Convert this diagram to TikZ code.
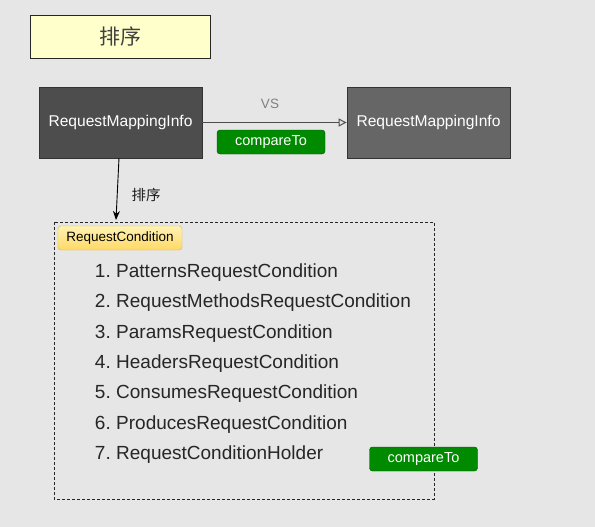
\documentclass[tikz,border=0pt]{standalone}
\usepackage{fontspec}
\setmainfont{Liberation Sans}
\newfontfamily\cjk{Noto Sans CJK SC}
\usetikzlibrary{arrows.meta}
\definecolor{bg}{HTML}{E6E6E6}
\definecolor{titlefill}{HTML}{FFFFCC}
\definecolor{darkbox}{HTML}{4D4D4D}
\definecolor{midbox}{HTML}{666666}
\definecolor{greenfill}{HTML}{008A00}
\definecolor{greendraw}{HTML}{005700}
\definecolor{tagtop}{HTML}{FFF2B3}
\definecolor{tagbot}{HTML}{FFD966}
\definecolor{tagdraw}{HTML}{D6B656}
\tikzset{
  px/.style={x=1pt,y=-1pt},
  infobox/.style={draw=black!80, line width=0.8pt, minimum width=163pt, minimum height=71pt, text=white, font=\fontsize{15.6}{18}\selectfont, inner sep=0pt},
  greentag/.style={draw=greendraw, fill=greenfill, rounded corners=3pt, minimum width=108pt, minimum height=24pt, text=white, font=\fontsize{14.5}{17}\selectfont, inner sep=0pt},
  listitem/.style={anchor=base west, font=\fontsize{19}{22}\selectfont, text=black!85, inner sep=0pt},
  numitem/.style={anchor=base east, font=\fontsize{19}{22}\selectfont, text=black!85, inner sep=0pt}
}
\begin{document}
\begin{tikzpicture}[px]
\fill[bg] (0,0) rectangle (595,527);
\useasboundingbox (0,0) rectangle (595,527);
% title
\node[draw=black!85, line width=0.8pt, fill=titlefill, minimum width=180pt, minimum height=43pt, inner sep=0pt, font=\cjk\fontsize{21}{24}\selectfont, text=black!75] (title) at (120,36.5) {排序};
% boxes
\node[infobox, fill=darkbox] (left) at (120.5,122.5) {RequestMappingInfo};
\node[infobox, fill=midbox] (right) at (428.5,122.5) {RequestMappingInfo};
\draw[draw=darkbox, line width=1pt, -{Triangle[open, length=8pt, width=8pt]}] (left.east) -- (right.west);
\node[font=\fontsize{13.5}{16}\selectfont, text=black!50] (vs) at (270,104) {VS};
\node[greentag] (cmp1) at (271,142) {compareTo};
% down arrow
\coordinate (dtop) at (119,158);
\coordinate (dbot) at (116,220);
\draw[black, line width=0.9pt, -{Stealth[length=9pt, width=7pt]}] (dtop) -- (dbot);
\node[font=\cjk\fontsize{14.5}{17}\selectfont, text=black!90] (sortlbl) at (146,195) {排序};
% dashed container
\draw[black!85, line width=0.8pt, dash pattern=on 3pt off 2pt] (54,222) rectangle (434,499);
\node[draw=tagdraw, top color=tagtop, bottom color=tagbot, rounded corners=3pt, minimum width=124pt, minimum height=24pt, inner sep=0pt, font=\fontsize{13.5}{15}\selectfont, text=black] (tag) at (120,238) {RequestCondition};
% list
\foreach \n/\t/\y in {1/PatternsRequestCondition/277, 2/RequestMethodsRequestCondition/307.5, 3/ParamsRequestCondition/338, 4/HeadersRequestCondition/368, 5/ConsumesRequestCondition/398.5, 6/ProducesRequestCondition/429, 7/RequestConditionHolder/459}{
  \node[numitem] (n\n) at (111,\y) {\n.};
  \node[listitem] (item\n) at (116,\y) {\t};
}
\node[greentag] (cmp2) at (423.5,459) {compareTo};
\end{tikzpicture}
\end{document}
